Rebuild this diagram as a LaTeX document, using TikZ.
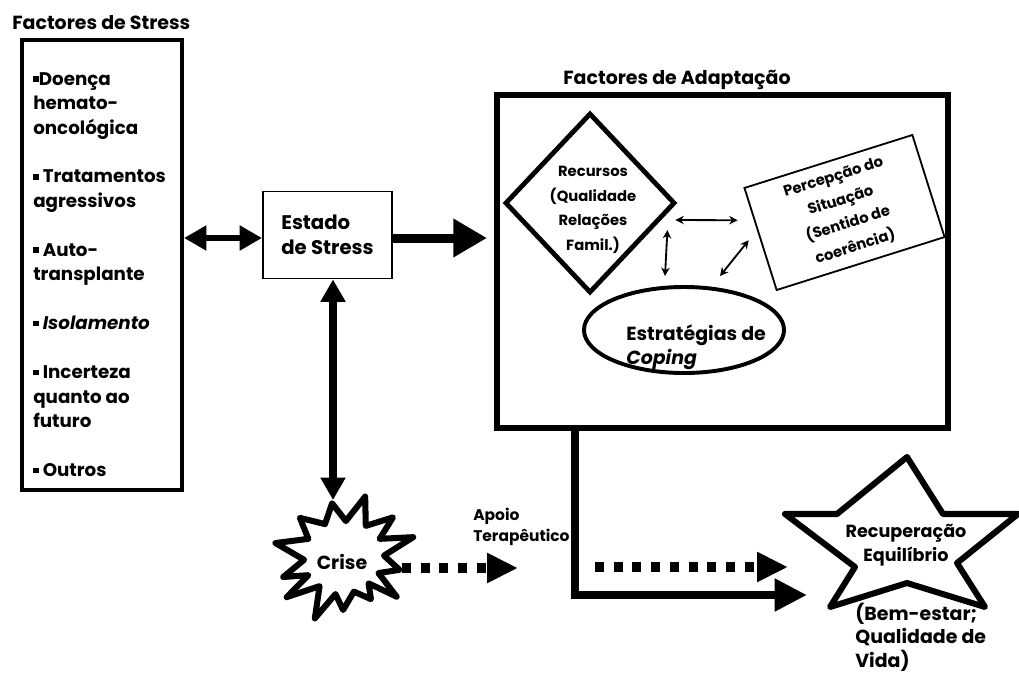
\documentclass[tikz,border=0pt]{standalone}
\usepackage{fontspec}
\setmainfont{Poppins}
\usetikzlibrary{arrows.meta,calc,shapes.geometric}
\newcommand{\sq}{\raisebox{2.4pt}{\rule{4pt}{4pt}}}
\tikzset{
  txt/.style={font=\bfseries\fontsize{#1}{17.4}\selectfont, inner sep=0pt},
  txt/.default=13,
  thickarrow/.style={line width=#1, {Triangle[length=16pt,width=17pt]}-{Triangle[length=16pt,width=17pt]}},
  dotarrow/.style={line width=7pt, dash pattern=on 6.4pt off 6.9pt, -{Triangle[length=22pt,width=20pt]}},
  thinarrow/.style={line width=1.3pt, {Stealth[length=6pt,width=6pt]}-{Stealth[length=6pt,width=6pt]}},
}

\begin{document}
\begin{tikzpicture}[x=0.025cm, y=-0.025cm]
%%%%% START %%%%%
\useasboundingbox (0,0) rectangle (1019,673);

% stress factors
\node[txt=13.5, anchor=west] (stresstitle) at (12,23) {Factores de Stress};
\node[draw, line width=2.8pt, minimum width=4cm, minimum height=11.25cm] (stress) at (102,265) {};
\node[txt, anchor=north west, align=left] (stresslist) at (33,72) {\sq Doença\\hemato-\\oncológica\\[17.4pt]
  \sq{} Tratamentos\\agressivos\\[17.4pt]
  \sq{} Auto-\\transplante\\[17.4pt]
  \sq{} \textit{Isolamento}\\[17.4pt]
  \sq{} Incerteza\\quanto ao\\futuro\\[17.4pt]
  \sq{} Outros};

\node[txt=14, draw, line width=1.3pt, minimum width=3.225cm, minimum height=2.175cm, align=left] (estado) at (327.5,235) {Estado\\de Stress};

% adaptation
\node[txt=13.5, anchor=west] (adapttitle) at (563,80) {Factores de Adaptação};
\node[draw, line width=4.3pt, minimum width=11.275cm, minimum height=8.325cm] (adapt) at (722.5,261.5) {};

\node[draw, diamond, line width=3.4pt, minimum width=4.25cm, minimum height=4.5cm, inner sep=0pt] (recursos) at (590,203) {};
\node[txt=10.5, align=center] (recursostxt) at (593,210) {Recursos\\(Qualidade\\Relações\\Famil.)};
\node[txt=10.5, draw, line width=1.3pt, rotate=17.5, minimum width=4.4cm, minimum height=2.675cm, align=center] (percepcao) at (844.5,212.5) {Percepção do\\Situação\\(Sentido de\\coerência)};
\node[draw, ellipse, line width=2.8pt, minimum width=5cm, minimum height=2.15cm] (coping) at (684,330) {};
\node[txt=13.5, anchor=west, align=left] (copingtxt) at (626,347) {Estratégias de\\\textit{Coping}};

\draw[thinarrow] ($(recursos.east)+(-2,17)$) -- ($(percepcao.west)+(-22,-19)$);
\draw[thinarrow] ($(recursos.east)+(-10,27)$) -- ($(coping.north)+(-19,-9)$);
\draw[thinarrow] ($(coping.north)+(36,-9)$) -- ($(percepcao.west)+(-11,1)$);

% crisis
\begin{scope}[shift={(344,557)}]
\draw[line width=4.3pt, line join=round, fill=white] (-168.5:70) -- (-153:40) -- (-138.4:59) -- (-120:38) -- (-102.5:55) -- (-87:36)
  -- (-70.7:64) -- (-55:38) -- (-39:63) -- (-27:40) -- (-16:72) -- (-2:40) -- (13:57) -- (25:38) -- (37:66) -- (47:36)
  -- (57.4:50) -- (74:36) -- (91:53) -- (103:38) -- (115.4:68) -- (130:38) -- (145:70) -- (153:40) -- (161.8:64) -- (176:40) -- cycle;
\end{scope}
\node[txt=13.5] (crise) at (342,562) {Crise};
\coordinate (crisetop) at (333,500);
\coordinate (crisefrom) at (402,568);
\coordinate (apoioto) at (518,568);
\node[txt=11, anchor=west, align=left, font=\bfseries\fontsize{11}{15}\selectfont] (apoio) at (473,527) {Apoio\\Terapêutico};

% recovery
\draw[line width=4.3pt, line join=round] (907,457) -- (943,514) -- (1018,514) -- (957,563) -- (985,607) -- (907,583)
  -- (830,607) -- (855,567) -- (785,514) -- (837,514) -- cycle;
\node[txt=12.5, align=center] (recup) at (906,545) {Recuperação\\Equilíbrio};
\node[txt=13.5, anchor=west, align=left, font=\bfseries\fontsize{13.5}{16.8}\selectfont] (bemestar) at (855,637) {(Bem-estar;\\Qualidade de\\Vida)};
\coordinate (corner) at (575,595);
\coordinate (dotfrom) at (595,567);
\coordinate (dotto) at (788,567);
\coordinate (solidto) at (807,595);

% arrows
\draw[thickarrow=4.3pt] (stress.east |- 0,238) -- (estado.west |- 0,238);
\draw[line width=6.4pt, -{Triangle[length=24pt,width=26pt]}] (estado.east |- 0,238) -- (487,238);
\draw[thickarrow=5.7pt] (estado.south -| crisetop) -- (crisetop);
\draw[dotarrow] (crisefrom) -- (apoioto);
\draw[dotarrow] (dotfrom) -- (dotto);
\draw[line width=5.7pt, -{Triangle[length=23pt,width=22pt]}] (adapt.south -| corner) -- (corner) -- (solidto);
%%%%% END %%%%%
\end{tikzpicture}
\end{document}
